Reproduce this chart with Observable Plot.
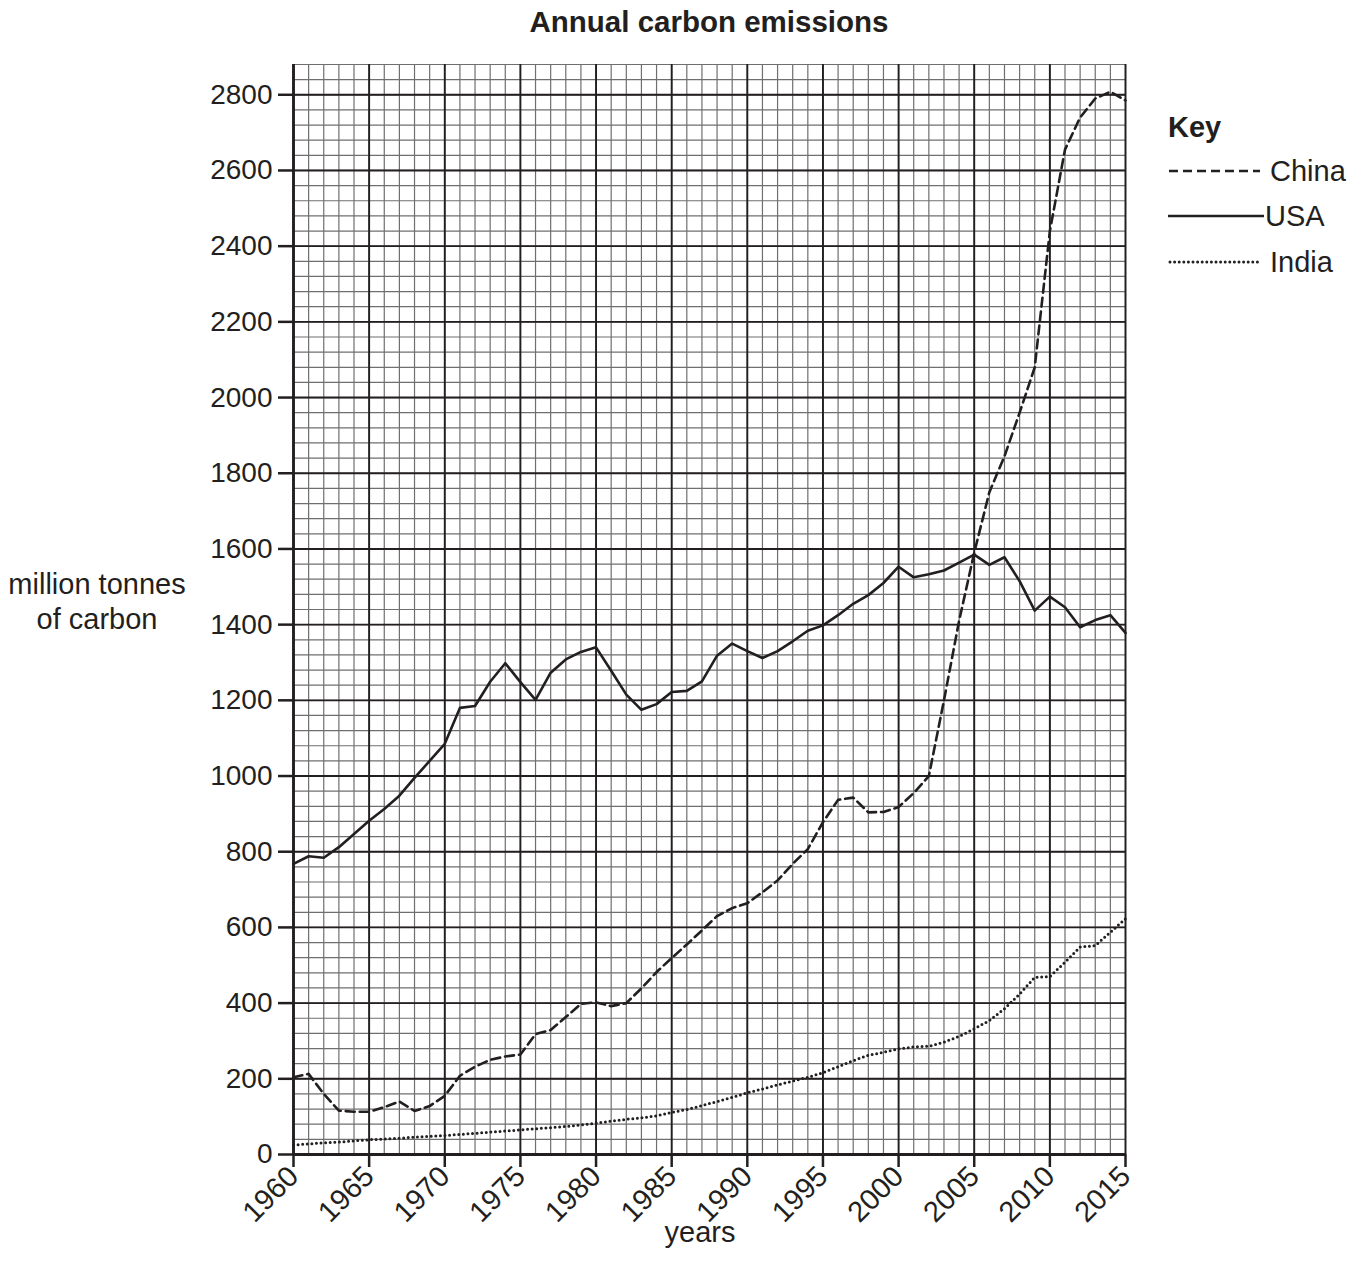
<!DOCTYPE html>
<html>
<head>
<meta charset="utf-8">
<script src="https://cdn.jsdelivr.net/npm/d3@7"></script>
<script src="https://cdn.jsdelivr.net/npm/@observablehq/plot@0.6"></script>
<style>
  html, body { margin: 0; padding: 0; background: #fff; }
  body { font-family: "Liberation Sans", Arial, sans-serif; color: #231f20; }
  #wrap { position: relative; width: 1363px; height: 1277px; }
  #title { height: 45px; box-sizing: border-box; padding-top: 6px; }
  #title span { position: absolute; left: 709px; top: 6px; transform: translateX(-50%); font-weight: bold; font-size: 29.5px; line-height: 32px; white-space: nowrap; }
  .abs { position: absolute; font-size: 29px; line-height: 32px; white-space: nowrap; }
  #ylab { left: 97px; top: 567px; transform: translateX(-50%); text-align: center; line-height: 35px; }
  #xlab { left: 700px; top: 1216px; transform: translateX(-50%); }
  .key-row { position: absolute; left: 1168px; height: 32px; display: flex; align-items: center; }
  .key-row svg { display: block; }
  .key-row span { font-size: 29px; line-height: 32px; }
</style>
</head>
<body>
<div id="wrap">
  <div id="title"><span>Annual carbon emissions</span></div>
  <div id="chart"></div>
  <div id="ylab" class="abs">million tonnes<br>of carbon</div>
  <div id="xlab" class="abs">years</div>
  <div class="abs" style="left:1168px; top:111px; font-weight:bold;">Key</div>
  <div class="key-row" style="top:155px;">
    <svg width="94" height="10"><line x1="1" y1="5" x2="92" y2="5" stroke="#231f20" stroke-width="2.5" stroke-dasharray="9,5"/></svg>
    <span style="margin-left:8px;">China</span>
  </div>
  <div class="key-row" style="top:200px;">
    <svg width="96" height="10"><line x1="0" y1="5" x2="96" y2="5" stroke="#231f20" stroke-width="2.5"/></svg>
    <span style="margin-left:1px;">USA</span>
  </div>
  <div class="key-row" style="top:246px;">
    <svg width="94" height="10"><line x1="2" y1="5" x2="93" y2="5" stroke="#231f20" stroke-width="3" stroke-linecap="round" stroke-dasharray="0,4.6"/></svg>
    <span style="margin-left:8px;">India</span>
  </div>
</div>
<script>
// ---- data ----
const years = d3.range(1960, 2016);

const china = [
  204, 213, 160, 116, 113, 113, 125, 140, 115, 128,
  155, 208, 232, 250, 259, 264, 318, 329, 363, 398,
  402, 392, 400, 439, 482, 519, 555, 592, 630, 651,
  664, 693, 724, 768, 807, 878, 937, 943, 904, 905,
  918, 955, 1000, 1200, 1410, 1590, 1750, 1845, 1960, 2080,
  2440, 2655, 2740, 2790, 2808, 2785
];

const usa = [
  768, 788, 784, 812, 847, 882, 913, 948, 995, 1040,
  1085, 1180, 1185, 1249, 1298, 1248, 1201, 1273, 1308, 1328,
  1340, 1278, 1215, 1175, 1190, 1222, 1225, 1250, 1318, 1350,
  1330, 1312, 1330, 1356, 1384, 1398, 1425, 1455, 1478, 1510,
  1553, 1525, 1533, 1543, 1564, 1585, 1558, 1578, 1515, 1437,
  1474, 1446, 1393, 1412, 1425, 1378
];

const india = [
  25, 28, 31, 33, 36, 39, 41, 43, 46, 48,
  50, 53, 56, 59, 62, 65, 68, 71, 74, 78,
  83, 88, 93, 97, 102, 111, 119, 129, 140, 151,
  163, 173, 184, 194, 204, 216, 232, 248, 262, 270,
  279, 284, 286, 297, 312, 332, 354, 385, 424, 468,
  470, 508, 548, 552, 587, 623
];

const xTicks = [1960, 1965, 1970, 1975, 1980, 1985, 1990, 1995, 2000, 2005, 2010, 2015];
const yTicks = [0, 200, 400, 600, 800, 1000, 1200, 1400, 1600, 1800, 2000, 2200, 2400, 2600, 2800];

// grid subdivisions
const xMinor = d3.range(1960, 2016, 1);
const yMinor = d3.range(0, 2881, 40);

const toRows = arr => years.map((y, i) => ({year: y, value: arr[i]}));
const chinaRows = toRows(china);
const usaRows = toRows(usa);
const indiaRows = toRows(india);

const ink = "#231f20";

const chart = Plot.plot({
  width: 1363,
  height: 1232,
  marginLeft: 293,
  marginRight: 238,
  marginTop: 19,
  marginBottom: 123,
  x: {domain: [1960, 2015]},
  y: {domain: [0, 2880]},
  style: {fontFamily: '"Liberation Sans", Arial, sans-serif', color: ink, background: "white"},
  marks: [
    Plot.gridX(xMinor, {stroke: "#6f6f6f", strokeOpacity: 1, strokeWidth: 1.2}),
    Plot.gridY(yMinor, {stroke: "#6f6f6f", strokeOpacity: 1, strokeWidth: 1.2}),
    Plot.gridX(xTicks, {stroke: ink, strokeOpacity: 1, strokeWidth: 1.9}),
    Plot.gridY(yTicks, {stroke: ink, strokeOpacity: 1, strokeWidth: 1.9}),
    Plot.axisY(yTicks, {tickSize: 15, tickPadding: 6, strokeWidth: 2.5, fontSize: 28, tickFormat: d => String(d), label: null, fill: ink}),
    Plot.axisX(xTicks, {tickSize: 13, tickPadding: 4, strokeWidth: 2.5, fontSize: 29, tickRotate: -45, tickFormat: d => String(d), label: null, fill: ink}),
    Plot.ruleX([1960], {stroke: ink, strokeWidth: 2.8}),
    Plot.ruleY([0], {stroke: ink, strokeWidth: 3}),
    Plot.line(usaRows, {x: "year", y: "value", stroke: ink, strokeWidth: 2.6}),
    Plot.line(chinaRows, {x: "year", y: "value", stroke: ink, strokeWidth: 2.6, strokeDasharray: "9,5"}),
    Plot.line(indiaRows, {x: "year", y: "value", stroke: ink, strokeWidth: 3, strokeLinecap: "round", strokeDasharray: "0,4.6"})
  ]
});
document.getElementById("chart").appendChild(chart);
</script>
</body>
</html>
